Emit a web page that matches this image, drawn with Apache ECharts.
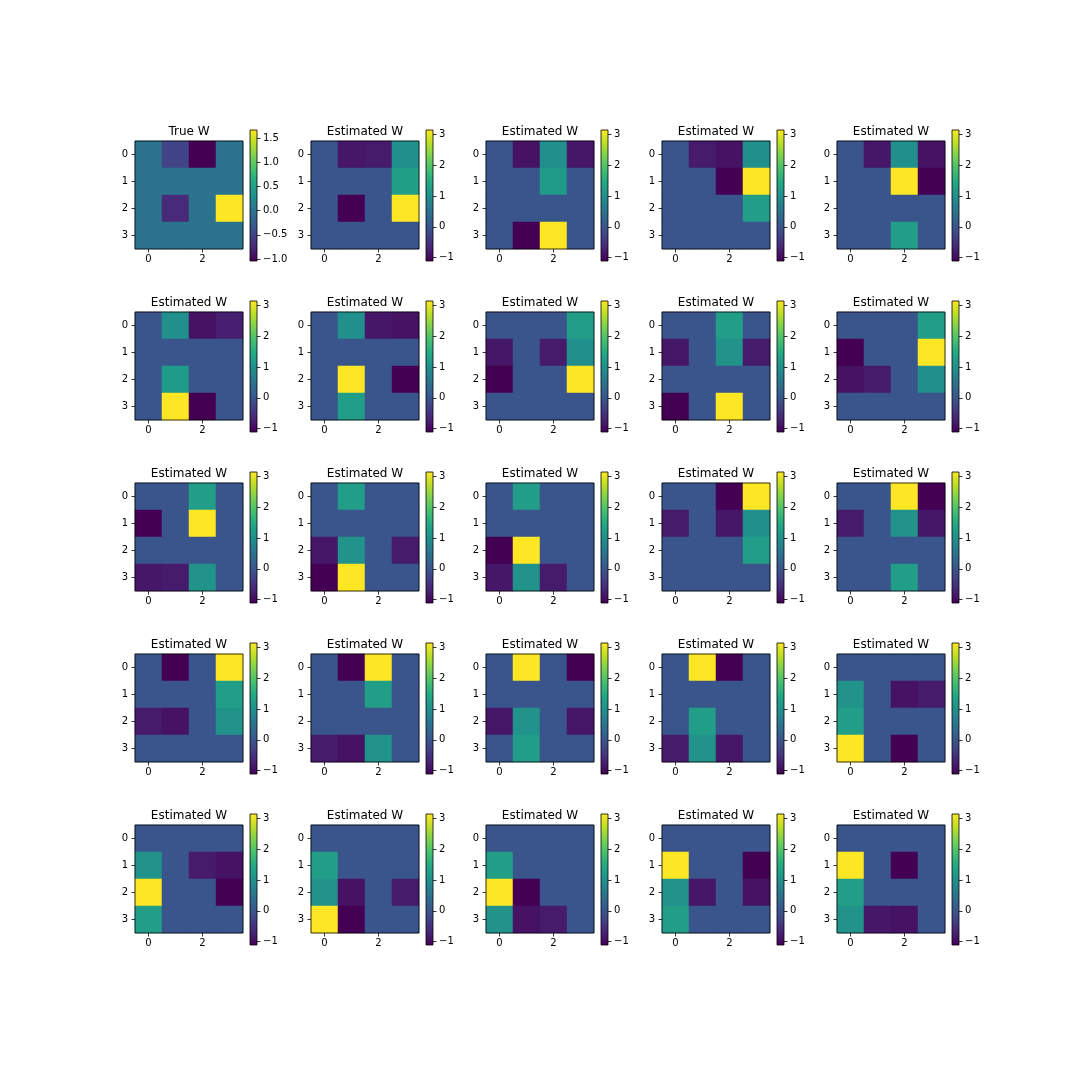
<!DOCTYPE html>
<html>
<head>
<meta charset="utf-8">
<script src="https://cdn.jsdelivr.net/npm/echarts@6/dist/echarts.min.js"></script>
<style>html,body{margin:0;padding:0;background:#fff}#c{width:1080px;height:1080px}</style>
</head>
<body>
<div id="c"></div>
<script>
// ---- data ----
const rowLabels = ['0', '1', '2', '3'];
const colLabels = ['0', '1', '2', '3'];
const trueTicks = [-1.0, -0.5, 0.0, 0.5, 1.0, 1.5];
const estTicks = [-1, 0, 1, 2, 3];
const trueTitle = 'True W';
const estTitle = 'Estimated W';

const trueW = [[0, -0.5, -1.04, 0], [0, 0, 0, 0], [0, -0.72, 0, 1.67], [0, 0, 0, 0]];
const est01 = [[0, -0.85, -0.8, 1.0], [0, 0, 0, 1.3], [0, -1.11, 0, 3.14], [0, 0, 0, 0]];
const est02 = [[0, -0.9, 1.0, -0.85], [0, 0, 1.2, 0], [0, 0, 0, 0], [0, -1.11, 3.14, 0]];
const est03 = [[0, -0.8, -0.9, 1.0], [0, 0, -1.11, 3.14], [0, 0, 0, 1.25], [0, 0, 0, 0]];
const est04 = [[0, -0.85, 1.0, -0.9], [0, 0, 3.14, -1.11], [0, 0, 0, 0], [0, 0, 1.25, 0]];
const est05 = [[0, 1.0, -0.9, -0.75], [0, 0, 0, 0], [0, 1.2, 0, 0], [0, 3.14, -1.11, 0]];
const est06 = [[0, 1.0, -0.85, -0.9], [0, 0, 0, 0], [0, 3.14, 0, -1.11], [0, 1.25, 0, 0]];
const est07 = [[0, 0, 0, 1.25], [-0.85, 0, -0.8, 1.0], [-1.11, 0, 0, 3.14], [0, 0, 0, 0]];
const est08 = [[0, 0, 1.25, 0], [-0.85, 0, 1.05, -0.8], [0, 0, 0, 0], [-1.11, 0, 3.14, 0]];
const est09 = [[0, 0, 0, 1.25], [-1.11, 0, 0, 3.14], [-0.9, -0.8, 0, 1.0], [0, 0, 0, 0]];
const est10 = [[0, 0, 1.25, 0], [-1.11, 0, 3.14, 0], [0, 0, 0, 0], [-0.85, -0.8, 1.05, 0]];
const est11 = [[0, 1.25, 0, 0], [0, 0, 0, 0], [-0.85, 1.05, 0, -0.8], [-1.11, 3.14, 0, 0]];
const est12 = [[0, 1.25, 0, 0], [0, 0, 0, 0], [-1.11, 3.14, 0, 0], [-0.85, 1.05, -0.8, 0]];
const est13 = [[0, 0, -1.11, 3.14], [-0.8, 0, -0.85, 1.0], [0, 0, 0, 1.25], [0, 0, 0, 0]];
const est14 = [[0, 0, 3.14, -1.11], [-0.8, 0, 1.05, -0.85], [0, 0, 0, 0], [0, 0, 1.25, 0]];
const est15 = [[0, -1.11, 0, 3.14], [0, 0, 0, 1.25], [-0.8, -0.9, 0, 1.05], [0, 0, 0, 0]];
const est16 = [[0, -1.11, 3.14, 0], [0, 0, 1.25, 0], [0, 0, 0, 0], [-0.8, -0.9, 1.05, 0]];
const est17 = [[0, 3.14, 0, -1.11], [0, 0, 0, 0], [-0.85, 1.05, 0, -0.85], [0, 1.25, 0, 0]];
const est18 = [[0, 3.14, -1.11, 0], [0, 0, 0, 0], [0, 1.25, 0, 0], [-0.8, 1.05, -0.85, 0]];
const est19 = [[0, 0, 0, 0], [1.05, 0, -0.9, -0.8], [1.25, 0, 0, 0], [3.14, 0, -1.11, 0]];
const est20 = [[0, 0, 0, 0], [1.05, 0, -0.8, -0.9], [3.14, 0, 0, -1.11], [1.25, 0, 0, 0]];
const est21 = [[0, 0, 0, 0], [1.25, 0, 0, 0], [1.05, -0.9, 0, -0.8], [3.14, -1.11, 0, 0]];
const est22 = [[0, 0, 0, 0], [1.25, 0, 0, 0], [3.14, -1.11, 0, 0], [1.05, -0.9, -0.8, 0]];
const est23 = [[0, 0, 0, 0], [3.14, 0, 0, -1.11], [1.05, -0.85, 0, -0.9], [1.25, 0, 0, 0]];
const est24 = [[0, 0, 0, 0], [3.14, 0, -1.11, 0], [1.25, 0, 0, 0], [1.05, -0.85, -0.9, 0]];

const estimates = [est01, est02, est03, est04, est05, est06, est07, est08, est09, est10, est11, est12,
  est13, est14, est15, est16, est17, est18, est19, est20, est21, est22, est23, est24];

// ---- style / layout ----
const viridis = ['#440154', '#482475', '#414487', '#355f8d', '#2a788e', '#21918c', '#22a884', '#44bf70', '#7ad151', '#bddf26', '#fde725'];
const FONT = 'DejaVu Sans';
const colLeft = [135, 311, 486, 662, 837];
const rowTop = [141, 312, 483, 654, 825];
const S = 108;

const panels = [{ title: trueTitle, m: trueW, ticks: trueTicks, dec: 1 }]
  .concat(estimates.map(m => ({ title: estTitle, m: m, ticks: estTicks, dec: 0 })));

function fmt(v, dec) {
  const s = Math.abs(v).toFixed(dec);
  return (v < 0 ? '\u2212' : '') + s;
}

const gradStops = viridis.map((c, i) => ({ offset: 1 - i / (viridis.length - 1), color: c }));

const option = { animation: false, backgroundColor: '#fff', title: [], grid: [], xAxis: [], yAxis: [], visualMap: [], series: [] };

panels.forEach((p, k) => {
  const r = Math.floor(k / 5), c = k % 5;
  const left = colLeft[c], top = rowTop[r];
  const flat = [];
  p.m.forEach((row, i) => row.forEach((v, j) => flat.push([j, i, v])));
  const vals = flat.map(d => d[2]);
  const vmin = Math.min.apply(null, vals), vmax = Math.max.apply(null, vals);

  option.title.push({
    text: p.title, left: left + S / 2, top: top - 15, textAlign: 'center', padding: 0,
    textStyle: { fontSize: 12, fontWeight: 'normal', color: '#000', fontFamily: FONT }
  });

  // heatmap grid
  const gi = option.grid.length;
  option.grid.push({ left: left, top: top, width: S, height: S, show: true, borderColor: '#000', borderWidth: 0.8, backgroundColor: 'transparent', z: 5 });
  option.xAxis.push({
    type: 'category', gridIndex: gi, data: colLabels, position: 'bottom',
    axisLine: { show: false },
    axisTick: { show: true, alignWithLabel: true, interval: (i) => i % 2 === 0, length: 3.5, lineStyle: { color: '#000', width: 0.8 } },
    axisLabel: { interval: (i) => i % 2 === 0, margin: 5, color: '#000', fontSize: 10, fontFamily: FONT },
    splitLine: { show: false }, splitArea: { show: false }
  });
  option.yAxis.push({
    type: 'category', gridIndex: gi, data: rowLabels, inverse: true,
    axisLine: { show: false },
    axisTick: { show: true, alignWithLabel: true, length: 3.5, lineStyle: { color: '#000', width: 0.8 } },
    axisLabel: { margin: 7, color: '#000', fontSize: 10, fontFamily: FONT },
    splitLine: { show: false }, splitArea: { show: false }
  });
  const si = option.series.length;
  option.series.push({ type: 'heatmap', xAxisIndex: gi, yAxisIndex: gi, data: flat, itemStyle: { borderWidth: 0 }, emphasis: { disabled: true } });
  option.visualMap.push({ type: 'continuous', show: false, seriesIndex: si, min: vmin, max: vmax, dimension: 2, inRange: { color: viridis } });

  // colorbar grid
  const ci = option.grid.length;
  option.grid.push({
    left: left + 115, top: top - 11, width: 7, height: 131, show: true, borderColor: '#000', borderWidth: 0.8,
    backgroundColor: { type: 'linear', x: 0, y: 0, x2: 0, y2: 1, colorStops: gradStops }
  });
  option.xAxis.push({ type: 'category', gridIndex: ci, data: ['c'], show: false });
  option.yAxis.push({
    type: 'value', gridIndex: ci, position: 'right', min: vmin, max: vmax,
    axisLine: { show: false },
    axisTick: { show: true, customValues: p.ticks, length: 3.5, lineStyle: { color: '#000', width: 0.8 } },
    axisLabel: { customValues: p.ticks, margin: 6, color: '#000', fontSize: 10, fontFamily: FONT, formatter: (v) => fmt(v, p.dec) },
    splitLine: { show: false }
  });
});

const chart = echarts.init(document.getElementById('c'), null, { renderer: 'canvas' });
chart.setOption(option);
</script>
</body>
</html>
